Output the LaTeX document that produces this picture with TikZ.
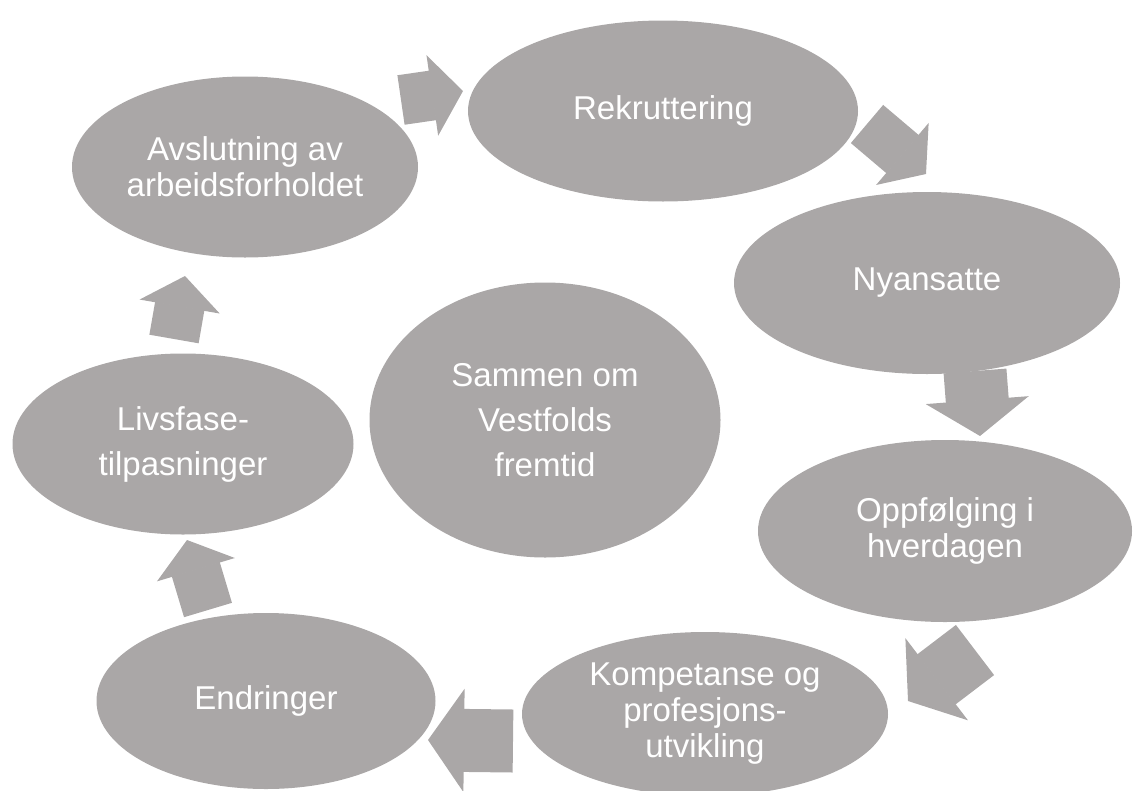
\documentclass[tikz,border=0pt]{standalone}
\usepackage{fontspec}
\setmainfont{Liberation Sans}
\usepackage{xcolor}
\definecolor{cyclegray}{RGB}{170,167,167}
\usetikzlibrary{arrows.meta,shapes.geometric}
\tikzset{
  phase/.style  ={ellipse,fill=cyclegray,text=white,align=center,inner sep=0pt,
                  font=\fontsize{33pt}{36pt}\selectfont},
  flow/.style   ={draw=cyclegray,line width=50pt,
                  -{Triangle[width=81pt,length=31pt,line width=2pt]}},
  bigflow/.style={draw=cyclegray,line width=63pt,
                  -{Triangle[width=103pt,length=36pt,line width=2pt]}},
}
\begin{document}
\begin{tikzpicture}[x=1pt,y=-1pt]
  \useasboundingbox (0,0) rectangle (1134,790);
  \clip (0,0) rectangle (1134,790);
  % the cycle
  \node[phase,minimum width=390pt,minimum height=181pt] (rekr) at (663,111) {Rekruttering};
  \node[phase,minimum width=386pt,minimum height=182pt] (nyans) at (927,283) {Nyansatte};
  \node[phase,minimum width=374pt,minimum height=182pt] (oppf) at (945,531) {Oppfølging i\\hverdagen};
  \node[phase,minimum width=366pt,minimum height=164pt] (komp) at (705,714) {Kompetanse og\\profesjons-\\utvikling};
  \node[phase,minimum width=339pt,minimum height=176pt] (endr) at (266,701) {Endringer};
  \node[phase,minimum width=341pt,minimum height=181pt] (livs) at (183,444) {Livsfase-\\[9pt]tilpasninger};
  \node[phase,minimum width=346pt,minimum height=181pt] (avsl) at (245,167) {Avslutning av\\arbeidsforholdet};
  % centre
  \node[phase,minimum width=351pt,minimum height=275pt] (sammen) at (545,420) {Sammen om\\[9pt]Vestfolds\\[9pt]fremtid};
  % block arrows between the phases
  \coordinate (f1a) at (401,100); \coordinate (f1b) at (463,91);
  \coordinate (f2a) at (867,124); \coordinate (f2b) at (926,174);
  \coordinate (f3a) at (975,371); \coordinate (f3b) at (980,436);
  \coordinate (f4a) at (975,650); \coordinate (f4b) at (908,701);
  \coordinate (f5a) at (513,741); \coordinate (f5b) at (428,740);
  \coordinate (f6a) at (208,610); \coordinate (f6b) at (187,540);
  \coordinate (f7a) at (174,339); \coordinate (f7b) at (185,276);
  \draw[flow] (f1a) -- (f1b);
  \draw[flow] (f2a) -- (f2b);
  \draw[bigflow] (f3a) -- (f3b);
  \draw[bigflow] (f4a) -- (f4b);
  \draw[bigflow] (f5a) -- (f5b);
  \draw[flow] (f6a) -- (f6b);
  \draw[flow] (f7a) -- (f7b);
\end{tikzpicture}
\end{document}
